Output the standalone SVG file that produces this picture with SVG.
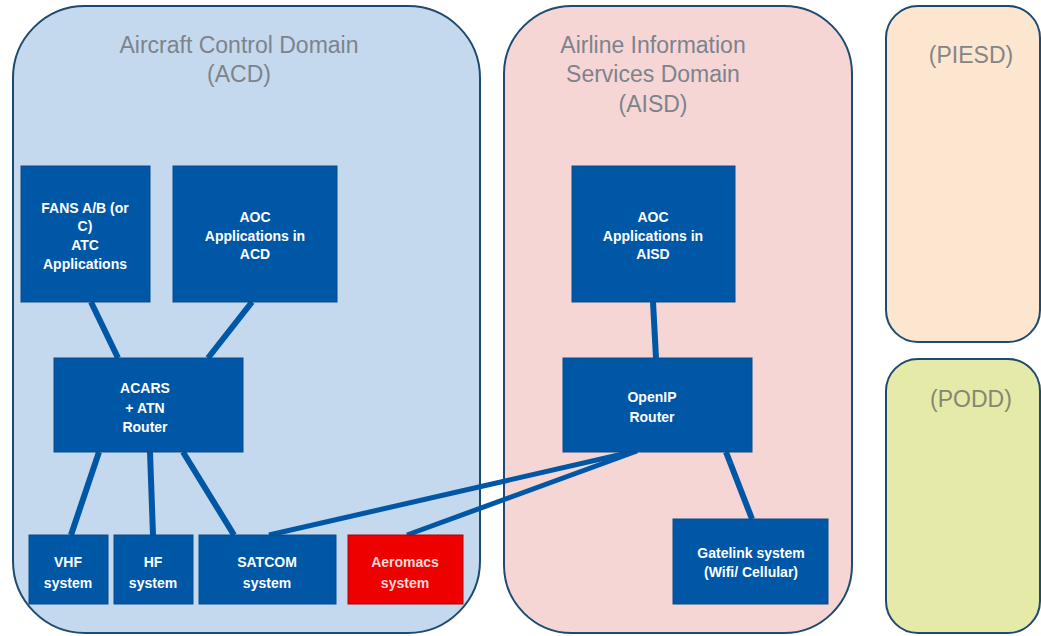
<svg xmlns="http://www.w3.org/2000/svg" width="1041" height="636" viewBox="0 0 1041 636">
<style>
.dom{stroke:#1f4a70;stroke-width:2}
.title{font-family:"Liberation Sans",Arial,sans-serif;font-size:23px;fill:#7d838c;text-anchor:middle}
.box{fill:#0057a6;stroke:#0b4c8c;stroke-width:1}
.red{fill:#ee0000;stroke:#b00000;stroke-width:1}
.lbl{font-family:"Liberation Sans",Arial,sans-serif;font-size:14px;font-weight:bold;fill:#ffffff;text-anchor:middle}
.lbl2{font-family:"Liberation Sans",Arial,sans-serif;font-size:14px;font-weight:bold;fill:#ffd7d7;text-anchor:middle}
.con line{stroke:#0057a6;stroke-width:6;stroke-linecap:butt}
</style>
<rect width="1041" height="636" fill="#ffffff"/>
<g id="acd-domain">
<rect class="dom" x="13" y="6" width="467" height="627" rx="72" ry="72" fill="#c5d9ee"/>
<text class="title" x="239" y="53">Aircraft Control Domain</text>
<text class="title" x="239" y="82">(ACD)</text>
</g>
<g id="aisd-domain">
<rect class="dom" x="504" y="6" width="348" height="627" rx="68" ry="68" fill="#f6d6d4"/>
<text class="title" x="653" y="53">Airline Information</text>
<text class="title" x="653" y="82">Services Domain</text>
<text class="title" x="653" y="112">(AISD)</text>
</g>
<g id="piesd-domain">
<rect class="dom" x="886" y="6" width="154" height="336" rx="32" ry="32" fill="#fce6d0"/>
<text class="title" x="971" y="63" style="fill:#858585">(PIESD)</text>
</g>
<g id="podd-domain">
<rect class="dom" x="886" y="359" width="154" height="274" rx="32" ry="32" fill="#e6eaa8"/>
<text class="title" x="971" y="407" style="fill:#868672">(PODD)</text>
</g>
<g id="connectors" class="con">
<line x1="91" y1="302" x2="118" y2="358"/>
<line x1="252" y1="302" x2="208" y2="358"/>
<line x1="99" y1="452" x2="71" y2="535"/>
<line x1="150" y1="452" x2="153" y2="535"/>
<line x1="183" y1="452" x2="234" y2="535"/>
<line x1="269" y1="535" x2="636" y2="451" style="stroke-width:5"/>
<line x1="407" y1="535" x2="637" y2="451" style="stroke-width:5"/>
<line x1="653" y1="302" x2="656" y2="358"/>
<line x1="726" y1="452" x2="752" y2="519"/>
</g>
<g id="fans">
<rect class="box" x="21" y="166" width="129" height="136"/>
<text class="lbl" x="85" y="213">FANS A/B (or</text>
<text class="lbl" x="85" y="231">C)</text>
<text class="lbl" x="85" y="250">ATC</text>
<text class="lbl" x="85" y="269">Applications</text>
</g>
<g id="aoc-acd">
<rect class="box" x="173" y="166" width="164" height="136"/>
<text class="lbl" x="255" y="222">AOC</text>
<text class="lbl" x="255" y="241">Applications in</text>
<text class="lbl" x="255" y="259">ACD</text>
</g>
<g id="acars">
<rect class="box" x="54" y="358" width="189" height="94"/>
<text class="lbl" x="145" y="393">ACARS</text>
<text class="lbl" x="145" y="413">+ ATN</text>
<text class="lbl" x="145" y="432">Router</text>
</g>
<g id="vhf">
<rect class="box" x="29" y="535" width="79" height="69"/>
<text class="lbl" x="68" y="567">VHF</text>
<text class="lbl" x="68" y="588">system</text>
</g>
<g id="hf">
<rect class="box" x="114" y="535" width="79" height="69"/>
<text class="lbl" x="153" y="567">HF</text>
<text class="lbl" x="153" y="588">system</text>
</g>
<g id="satcom">
<rect class="box" x="199" y="535" width="137" height="69"/>
<text class="lbl" x="267" y="567">SATCOM</text>
<text class="lbl" x="267" y="588">system</text>
</g>
<g id="aeromacs">
<rect class="red" x="348" y="535" width="115" height="69"/>
<text class="lbl2" x="405" y="567">Aeromacs</text>
<text class="lbl2" x="405" y="588">system</text>
</g>
<g id="aoc-aisd">
<rect class="box" x="572" y="166" width="163" height="136"/>
<text class="lbl" x="653" y="222">AOC</text>
<text class="lbl" x="653" y="241">Applications in</text>
<text class="lbl" x="653" y="259">AISD</text>
</g>
<g id="openip">
<rect class="box" x="563" y="358" width="189" height="94"/>
<text class="lbl" x="652" y="402">OpenIP</text>
<text class="lbl" x="652" y="422">Router</text>
</g>
<g id="gatelink">
<rect class="box" x="673" y="519" width="155" height="85"/>
<text class="lbl" x="751" y="558">Gatelink system</text>
<text class="lbl" x="751" y="577">(Wifi/ Cellular)</text>
</g>
</svg>
